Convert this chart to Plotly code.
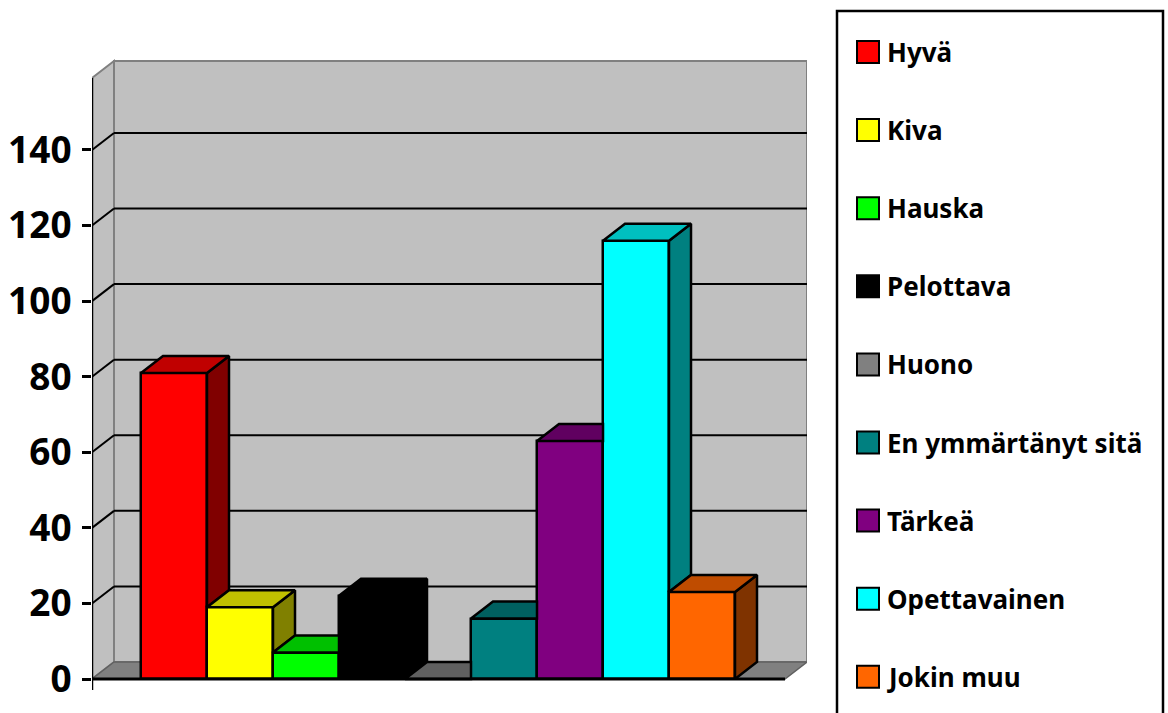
import plotly.graph_objects as go

# ---------------- data ----------------
categories = ["Hyvä", "Kiva", "Hauska", "Pelottava", "Huono",
              "En ymmärtänyt sitä", "Tärkeä", "Opettavainen", "Jokin muu"]
values = [81, 19, 7, 22, 0, 16, 63, 116, 23]
front_colors = ["#FF0000", "#FFFF00", "#00FF00", "#000000", "#808080",
                "#008080", "#800080", "#00FFFF", "#FF6600"]
top_colors = ["#C00000", "#C0C000", "#00C000", "#000000", "#606060",
              "#006060", "#600060", "#00C0C0", "#BF4C00"]
side_colors = ["#800000", "#808000", "#008000", "#000000", "#404040",
               "#004040", "#400040", "#008080", "#7F3300"]
y_ticks = [0, 20, 40, 60, 80, 100, 120, 140]

# ---------------- geometry (pixels -> axis units) ----------------
W, H = 1168, 713
PX_L, PX_R = 92, 807          # plot area left/right in px
PY_T, PY_B = 57, 690          # plot area top/bottom in px
PY_ZERO = 679                 # pixel of value 0
PPX = 66.0                    # px per category slot
PPY = 3.779                   # px per value unit
X_MIN = -0.5 - (141 - PX_L) / PPX
X_MAX = X_MIN + (PX_R - PX_L) / PPX
Y_MIN = -(PY_B - PY_ZERO) / PPY
Y_MAX = (PY_ZERO - PY_T) / PPY
DX = 22 / PPX                 # depth offset in x units
DY = 17 / PPY                 # depth offset in y units
FRONT_R = X_MIN + (785 - PX_L) / PPX
WALL_TOP = (PY_ZERO - 78) / PPY

FONT = "Noto Sans"


def px2paper(px, py):
    return (px - PX_L) / (PX_R - PX_L), (PY_B - py) / (PY_B - PY_T)


def path(points):
    return "M " + " L ".join(f"{x},{y}" for x, y in points) + " Z"


shapes = []
# back wall
shapes.append(dict(type="path", xref="x", yref="y", layer="below",
                   path=path([(X_MIN + DX, DY), (FRONT_R + DX, DY),
                              (FRONT_R + DX, WALL_TOP + DY), (X_MIN + DX, WALL_TOP + DY)]),
                   fillcolor="#C0C0C0", line=dict(color="#808080", width=2)))
# left wall
shapes.append(dict(type="path", xref="x", yref="y", layer="below",
                   path=path([(X_MIN, 0), (X_MIN + DX, DY),
                              (X_MIN + DX, WALL_TOP + DY), (X_MIN, WALL_TOP)]),
                   fillcolor="#C0C0C0", line=dict(color="#808080", width=2)))
# floor
shapes.append(dict(type="path", xref="x", yref="y", layer="below",
                   path=path([(X_MIN, 0), (FRONT_R, 0), (FRONT_R + DX, DY), (X_MIN + DX, DY)]),
                   fillcolor="#808080", line=dict(color="#606060", width=1.5)))
# gridlines on back wall and left wall
for v in y_ticks[1:]:
    shapes.append(dict(type="line", xref="x", yref="y", layer="below",
                       x0=X_MIN + DX, x1=FRONT_R + DX, y0=v + DY, y1=v + DY,
                       line=dict(color="black", width=2)))
    shapes.append(dict(type="line", xref="x", yref="y", layer="below",
                       x0=X_MIN, x1=X_MIN + DX, y0=v, y1=v + DY,
                       line=dict(color="black", width=2)))
# value axis line and floor front edge
shapes.append(dict(type="line", xref="x", yref="y", layer="above",
                   x0=X_MIN, x1=X_MIN, y0=Y_MIN, y1=WALL_TOP,
                   line=dict(color="black", width=2.5)))
shapes.append(dict(type="line", xref="x", yref="y", layer="above",
                   x0=X_MIN, x1=FRONT_R, y0=0, y1=0,
                   line=dict(color="black", width=3)))

fig = go.Figure()

# front faces as real bars
for i, (name, v) in enumerate(zip(categories, values)):
    fig.add_trace(go.Bar(x=[i], y=[v], width=1, name=name,
                         marker=dict(color=front_colors[i], line=dict(color="black", width=2.5)),
                         showlegend=False))

# top and side faces (drawn above bars, clipped where later bars hide them)
n = len(values)
for i, v in enumerate(values):
    xl, xr = i - 0.5, i + 0.5
    nxt = values[i + 1] if i + 1 < n else None
    # side face
    base = 0 if nxt is None else max(0, nxt)
    if v > base:
        pts = [(xr, base), (xr, v), (xr + DX, v + DY), (xr + DX, base + DY)]
        fig.add_trace(go.Scatter(x=[p[0] for p in pts] + [pts[0][0]],
                                 y=[p[1] for p in pts] + [pts[0][1]],
                                 mode="lines", fill="toself", fillcolor=side_colors[i],
                                 line=dict(color="black", width=2.5),
                                 hoverinfo="skip", showlegend=False))
    # top face
    if nxt is not None and nxt > v:
        if nxt >= v + DY:
            pts = [(xl, v), (xr, v), (xr, v + DY), (xl + DX, v + DY)]
        else:
            t = (v + DY - nxt) / DY
            pts = [(xl, v), (xr, v), (xr, nxt), (xr + t * DX, v + DY), (xl + DX, v + DY)]
    else:
        pts = [(xl, v), (xr, v), (xr + DX, v + DY), (xl + DX, v + DY)]
    fig.add_trace(go.Scatter(x=[p[0] for p in pts] + [pts[0][0]],
                             y=[p[1] for p in pts] + [pts[0][1]],
                             mode="lines", fill="toself", fillcolor=top_colors[i],
                             line=dict(color="black", width=2.5),
                             hoverinfo="skip", showlegend=False))

# ---------------- manual legend ----------------
annotations = []
lx0, ly0 = px2paper(837, 11)
lx1, ly1 = px2paper(1163, 730)
shapes.append(dict(type="rect", xref="paper", yref="paper", layer="above",
                   x0=lx0, x1=lx1, y0=ly1, y1=ly0,
                   fillcolor="rgba(0,0,0,0)", line=dict(color="black", width=2.5)))
first_y, step = 52, 78.1
for i, name in enumerate(categories):
    cy = first_y + i * step
    sx0, sy0 = px2paper(857, cy - 11)
    sx1, sy1 = px2paper(879, cy + 11)
    shapes.append(dict(type="rect", xref="paper", yref="paper", layer="above",
                       x0=sx0, x1=sx1, y0=sy1, y1=sy0,
                       fillcolor=front_colors[i], line=dict(color="black", width=2)))
    tx, ty = px2paper(885, cy)
    annotations.append(dict(xref="paper", yref="paper", x=tx, y=ty,
                            xanchor="left", yanchor="middle", showarrow=False,
                            text=name, font=dict(family=FONT, size=26, color="black", weight="bold")))

fig.update_layout(
    width=W, height=H, autosize=False,
    margin=dict(l=PX_L, r=W - PX_R, t=PY_T, b=H - PY_B, pad=0, autoexpand=False),
    paper_bgcolor="white", plot_bgcolor="white",
    barmode="overlay", bargap=0,
    showlegend=False,
    shapes=shapes, annotations=annotations,
    xaxis=dict(range=[X_MIN, X_MAX], visible=False, fixedrange=True, automargin=False),
    yaxis=dict(range=[Y_MIN, Y_MAX], showgrid=False, zeroline=False, showline=False,
               automargin=False,
               tickmode="array", tickvals=y_ticks, ticktext=[str(t) for t in y_ticks],
               ticks="outside", ticklen=9, tickwidth=2.5, tickcolor="black",
               ticklabelstandoff=3,
               tickfont=dict(family=FONT, size=37, color="black", weight="bold"),
               fixedrange=True),
)

fig.write_html("out.html", config={"displayModeBar": False},
               post_script="document.body.style.margin='0';document.body.style.overflow='hidden';")
